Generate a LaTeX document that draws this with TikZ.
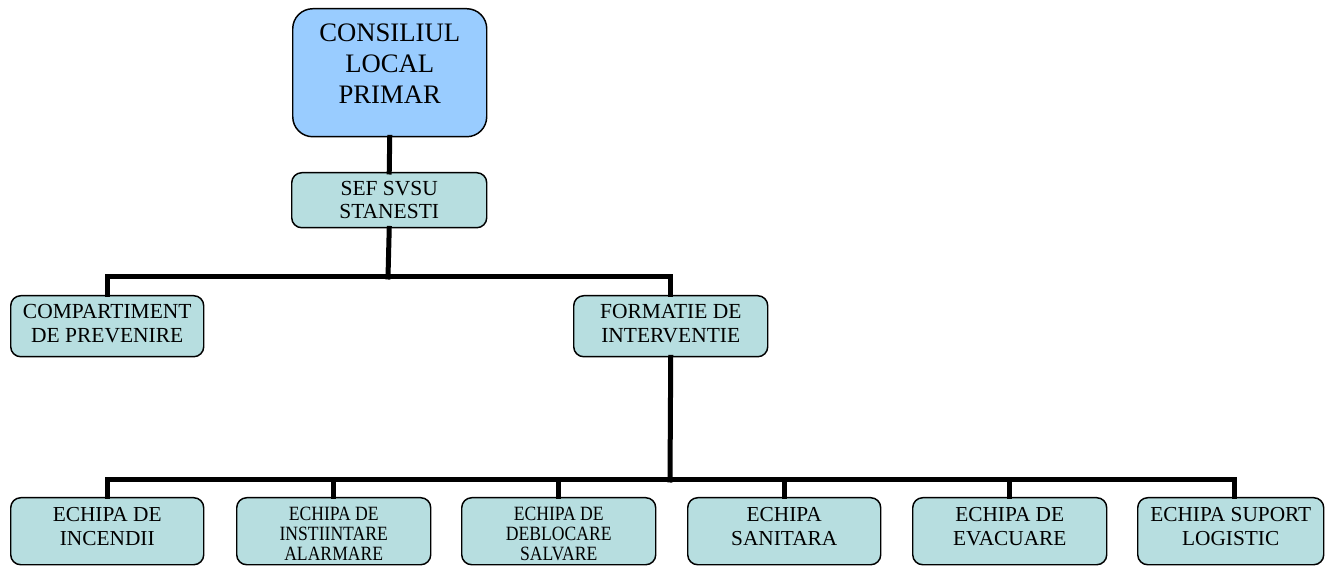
\documentclass[tikz,border=0pt]{standalone}
\usepackage{fontspec}
\setmainfont{Liberation Serif}
\newfontfamily\condserif[FakeStretch=0.87]{Liberation Serif}
\definecolor{topblue}{HTML}{99CCFF}
\definecolor{teal}{HTML}{B7DEE0}
\newcommand{\dn}[1]{\rule[-#1]{0pt}{#1}}
\newcommand{\upr}[1]{\rule{0pt}{#1}}
\begin{document}
\begin{tikzpicture}[x=0.75pt,y=-0.75pt,
  box/.style={draw=black,line width=1.1pt,fill=teal,rounded corners=7.5pt,
    inner sep=0pt,align=center,anchor=north west},
  topbox/.style={box,fill=topblue,rounded corners=15pt,font=\fontsize{20}{23.25}\selectfont},
  midfont/.style={font=\fontsize{16.1}{17.6}\selectfont},
  botfont/.style={font=\fontsize{16}{18}\selectfont},
  smallfont/.style={font=\condserif\fontsize{15.2}{15}\selectfont},
  conn/.style={line width=3.75pt,line cap=rect}]
\useasboundingbox (0,0) rectangle (1325,566);
\clip (0,0) rectangle (1325,566);
% top
\node[topbox,minimum width=194*0.75pt,minimum height=128*0.75pt] (top) at (292,8) {CONSILIUL\\LOCAL\\PRIMAR\dn{14pt}};
\node[box,midfont,minimum width=195*0.75pt,minimum height=55*0.75pt] (sef) at (291,172) {SEF SVSU\\STANESTI};
\node[box,midfont,minimum width=193*0.75pt,minimum height=61*0.75pt] (comp) at (10,295) {COMPARTIMENT\\DE PREVENIRE\dn{4.5pt}};
\node[box,midfont,minimum width=194*0.75pt,minimum height=61*0.75pt] (form) at (573,295) {FORMATIE DE\\INTERVENTIE\dn{4.5pt}};
% bottom row
\node[box,botfont,minimum width=193*0.75pt,minimum height=67*0.75pt] (e1) at (10,497) {ECHIPA DE\\INCENDII\dn{6.75pt}};
\node[box,smallfont,minimum width=194*0.75pt,minimum height=67*0.75pt] (e2) at (236,497) {\upr{13.75pt}ECHIPA DE\\INSTIINTARE\\ALARMARE};
\node[box,smallfont,minimum width=194*0.75pt,minimum height=67*0.75pt] (e3) at (461,497) {\upr{13.75pt}ECHIPA DE\\DEBLOCARE\\SALVARE};
\node[box,botfont,minimum width=193*0.75pt,minimum height=67*0.75pt] (e4) at (687,497) {ECHIPA\\SANITARA\dn{6.75pt}};
\node[box,botfont,minimum width=194*0.75pt,minimum height=67*0.75pt] (e5) at (912,497) {ECHIPA DE\\EVACUARE\dn{6.75pt}};
\node[box,botfont,minimum width=186*0.75pt,minimum height=67*0.75pt] (e6) at (1137,497) {ECHIPA SUPORT\\LOGISTIC\dn{6.75pt}};
% connectors
\draw[conn] (top.south) -- (sef.north);
\coordinate (bus1) at (388,277);
\coordinate (bus1l) at (comp.north |- bus1);
\coordinate (bus1r) at (form.north |- bus1);
\draw[conn] (sef.south) -- (bus1);
\draw[conn] (bus1l) -- (bus1r);
\draw[conn] (bus1l) -- (comp.north);
\draw[conn] (bus1r) -- (form.north);
\coordinate (bus2) at (670,480);
\coordinate (bus2l) at (e1.north |- bus2);
\coordinate (bus2r) at (1234,480);
\draw[conn] (form.south) -- (bus2);
\draw[conn] (bus2l) -- (bus2r);
\foreach \n in {e1,e2,e3,e4,e5}{\draw[conn] (\n.north |- bus2) -- (\n.north);}
\draw[conn] (bus2r) -- (bus2r |- e6.north);
\end{tikzpicture}
\end{document}
